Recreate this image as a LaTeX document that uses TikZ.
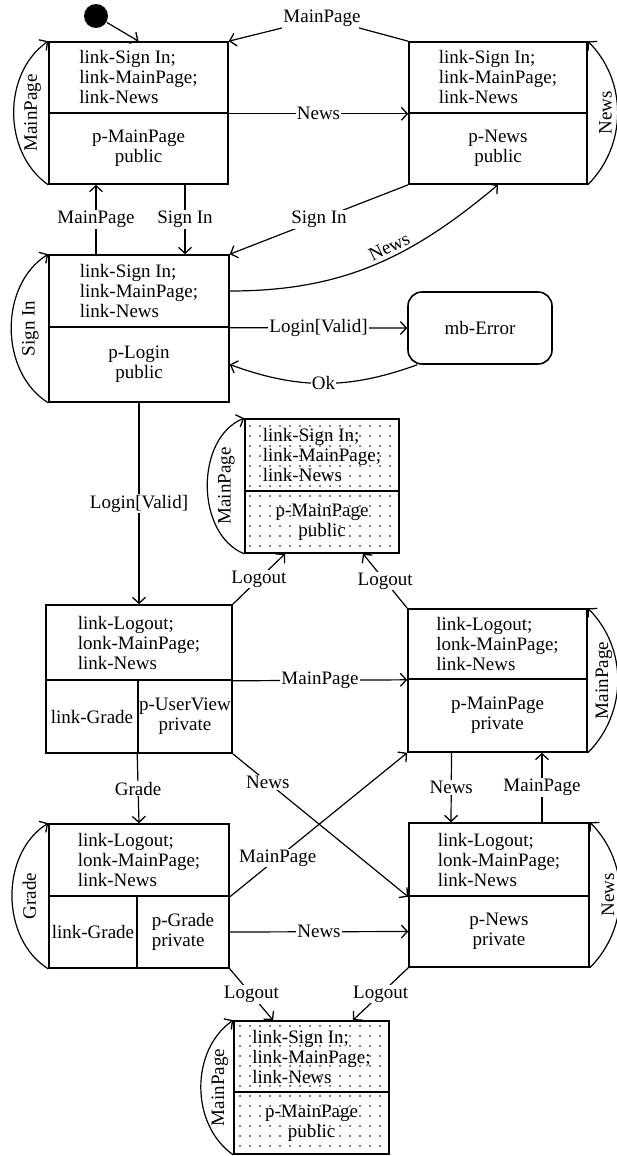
\documentclass[tikz,border=0pt]{standalone}
\usepackage{fontspec}
\setmainfont{Liberation Serif}
\usetikzlibrary{arrows.meta,patterns.meta}

\begin{document}
\begin{tikzpicture}[x=1pt,y=-1pt,line width=1.2pt,
        font=\fontsize{19}{20}\selectfont,
        >={Straight Barb[length=6pt,width=13pt,line width=1.3pt]},
        part/.style={draw,line width=1.6pt,inner sep=0pt,align=left},
        dotpart/.style={part,pattern={Dots[radius=0.9pt,distance=10pt]}},
        err/.style={draw,line width=1.6pt,rounded corners=14pt,minimum width=144pt,minimum height=72pt},
        lbl/.style={fill=white,inner sep=1pt},
        looplbl/.style={rotate=90,anchor=north,inner sep=0pt,inner ysep=10pt},
        looplblr/.style={rotate=90,anchor=south,inner sep=0pt,inner ysep=5pt}]
        \useasboundingbox (0,0) rectangle (616,1156);

        \node[circle,fill,minimum size=24pt,inner sep=0pt] (v0) at (96,16) {};
        \node[part,minimum width=179pt,minimum height=71pt] (v1a) at (138.5,77.5) {link-Sign In;\\link-MainPage;\\link-News};
        \node[part,minimum width=179pt,minimum height=71pt,align=center] (v1b) at (138.5,148.5) {p-MainPage\\public};
        \draw (v0) edge[->] (v1a.north);
        \draw (v1b.south west) edge[->,bend left=55] node[looplbl] {MainPage} (v1a.north west);

        \node[part,minimum width=178pt,minimum height=71pt] (v2a) at (498,77.5) {link-Sign In;\\link-MainPage;\\link-News};
        \node[part,minimum width=178pt,minimum height=71pt,align=center] (v2b) at (498,148.5) {p-News\\public};
        \node[lbl] (l1) at (322,18) {MainPage};
        \draw (v2a.north west) -- (l1);
        \draw[->] (l1) -- (v1a.north east);
        \draw (v1a.south east) edge[->] node[lbl] {News} (v2a.south west);
        \draw (v2b.south east) edge[->,bend right=45] node[looplblr] {News} (v2a.north east);

        \node[part,minimum width=180pt,minimum height=72pt] (v3a) at (139,291) {link-Sign In;\\link-MainPage;\\link-News};
        \node[part,minimum width=180pt,minimum height=75pt,align=center] (v3b) at (139,364.5) {p-Login\\public};
        \draw ([xshift=-43pt]v3a.north) edge[->] node[lbl] {MainPage} ([xshift=-42.5pt]v1b.south);
        \draw ([xshift=46.5pt]v1b.south) edge[->] node[lbl] {Sign In} ([xshift=46pt]v3a.north);
        \draw (v2b.south west) edge[->] node[lbl,pos=0.5] {Sign In} (v3a.north east);
        \draw (v3a.east) edge[->,out=0,in=220] node[sloped,above,pos=0.58] {News} (v2b.south);
        \draw (v3b.south west) edge[->,bend left=58] node[looplbl] {Sign In} (v3a.north west);

        \node[err] (v6) at (480,328) {mb-Error};
        \draw (v3a.south east) edge[->] node[lbl] {Login[Valid]} (v6.west);
        \draw ([xshift=10pt]v6.south west) edge[->,bend left=20] node[lbl] {Ok} (v3b.east);

        % logged out again
        \node[dotpart,minimum width=154pt,minimum height=72pt] (v9a) at (322,455) {link-Sign In;\\link-MainPage;\\link-News};
        \node[dotpart,minimum width=154pt,minimum height=62pt,align=center] (v9b) at (322,522) {p-MainPage\\public};
        \draw (v9b.south west) edge[->,bend left=68] node[looplbl] {MainPage} (v9a.north west);

        \node[part,minimum width=186pt,minimum height=75pt] (v4a) at (139,642.5) {link-Logout;\\lonk-MainPage;\\link-News};
        \node[part,minimum width=92pt,minimum height=73pt] (v4b) at (92,716.5) {link-Grade};
        \node[part,minimum width=94pt,minimum height=73pt,align=center] (v4c) at (185,716.5) {p-UserView\\private};
        \draw (v3b.south) edge[->] node[lbl] {Login[Valid]} (v4a.north);

        \node[part,minimum width=179pt,minimum height=70pt] (v5a) at (497.5,644) {link-Logout;\\lonk-MainPage;\\link-News};
        \node[part,minimum width=179pt,minimum height=73pt,align=center] (v5b) at (497.5,715.5) {p-MainPage\\private};
        \draw (v4a.north east) edge[->] node[lbl] {Logout} ([xshift=-37pt]v9b.south);
        \draw (v5a.north west) edge[->] node[lbl] {Logout} ([xshift=41pt]v9b.south);
        \draw (v4a.south east) edge[->] node[lbl] {MainPage} (v5a.south west);
        \draw (v5b.south east) edge[->,bend right=45] node[looplblr] {MainPage} (v5a.north east);

        \node[part,minimum width=180pt,minimum height=72pt] (v7a) at (139,860) {link-Logout;\\lonk-MainPage;\\link-News};
        \node[part,minimum width=88pt,minimum height=72pt] (v7b) at (93,932) {link-Grade};
        \node[part,minimum width=92pt,minimum height=72pt] (v7c) at (183,932) {p-Grade\\private};
        \draw (v4c.south west) edge[->] node[lbl] {Grade} (v7a.north);
        \draw (v7b.south west) edge[->,bend left=58] node[looplbl] {Grade} (v7a.north west);

        \node[part,minimum width=180pt,minimum height=73pt] (v8a) at (499,859.5) {link-Logout;\\lonk-MainPage;\\link-News};
        \node[part,minimum width=180pt,minimum height=71pt,align=center] (v8b) at (499,931.5) {p-News\\private};
        \draw (v4c.south east) edge[->] node[lbl,pos=0.2] {News} (v8a.south west);
        \draw (v7a.south east) edge[->] node[lbl,pos=0.27] {MainPage} (v5b.south west);
        \draw (v7c.east) edge[->] node[lbl] {News} (v8b.west);
        \draw ([xshift=-46pt]v5b.south) edge[->] node[lbl] {News} ([xshift=-48pt]v8a.north);
        \draw ([xshift=43pt]v8a.north) edge[->] node[lbl] {MainPage} ([xshift=44.5pt]v5b.south);
        \draw (v8b.south east) edge[->,bend right=45] node[looplblr] {News} (v8a.north east);

        % logged out again
        \node[dotpart,minimum width=155pt,minimum height=71pt] (v10a) at (311.5,1056.5) {link-Sign In;\\link-MainPage;\\link-News};
        \node[dotpart,minimum width=155pt,minimum height=62pt,align=center] (v10b) at (311.5,1123) {p-MainPage\\public};
        \draw (v7c.south east) edge[->] node[lbl] {Logout} ([xshift=-38.5pt]v10a.north);
        \draw (v8b.south west) edge[->] node[lbl] {Logout} ([xshift=41.5pt]v10a.north);
        \draw (v10b.south west) edge[->,bend left=55] node[looplbl] {MainPage} (v10a.north west);
\end{tikzpicture}
\end{document}
